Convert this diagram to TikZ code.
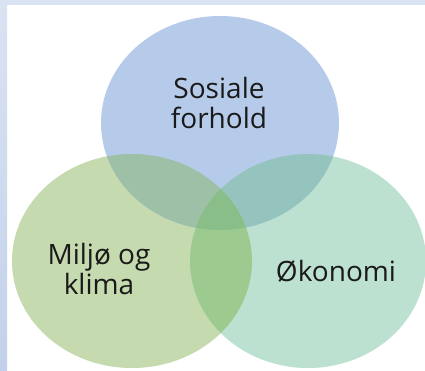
\documentclass[tikz,border=0pt]{standalone}
\usepackage{fontspec}
\setmainfont{Open Sans}
\definecolor{frameA}{HTML}{DAE3F2}
\definecolor{frameB}{HTML}{C2D1EB}
\definecolor{cBlue}{HTML}{B6CBEA}
\definecolor{cLeft}{HTML}{C6DAAF}
\definecolor{cRight}{HTML}{BDE1D0}
\definecolor{cBL}{HTML}{9DC0A6}
\definecolor{cBR}{HTML}{95C4BF}
\definecolor{cLR}{HTML}{9DCA8E}
\definecolor{cAll}{HTML}{89BE89}
\definecolor{txt}{HTML}{1A1A1A}
\tikzset{
  lbl/.style={font=\fontsize{28}{30.5}\selectfont, text=txt, align=center, inner sep=0pt}
}
\begin{document}
\begin{tikzpicture}[x=1pt,y=-1pt]
\useasboundingbox (0,0) rectangle (425,370);
\fill[white] (0,0) rectangle (425,370);
% frame strips
\fill[frameA] (0,0) rectangle (425,5);
\shade[top color=frameA, bottom color=frameB] (0,0) rectangle (7,370);
% centres
\coordinate (cb) at (220,123);
\coordinate (cl) at (132,261);
\coordinate (cr) at (308,261);
\def\blueE{(cb) ellipse [x radius=119, y radius=107]}
\def\leftE{(cl) ellipse [x radius=120, y radius=107]}
\def\rightE{(cr) ellipse [x radius=118, y radius=107]}
\fill[cLeft] \leftE;
\fill[cRight] \rightE;
\fill[cBlue] \blueE;
\begin{scope}
  \clip \blueE;
  \fill[cBL] \leftE;
  \fill[cBR] \rightE;
\end{scope}
\begin{scope}
  \clip \leftE;
  \fill[cLR] \rightE;
  \clip \rightE;
  \fill[cAll] \blueE;
\end{scope}
% labels
\node[lbl] (sos) at (219,103) {Sosiale\\forhold};
\node[lbl] (mil) at (99,269) {Miljø og\\klima};
\node[lbl] (oko) at (336,271) {Økonomi};
\end{tikzpicture}
\end{document}
